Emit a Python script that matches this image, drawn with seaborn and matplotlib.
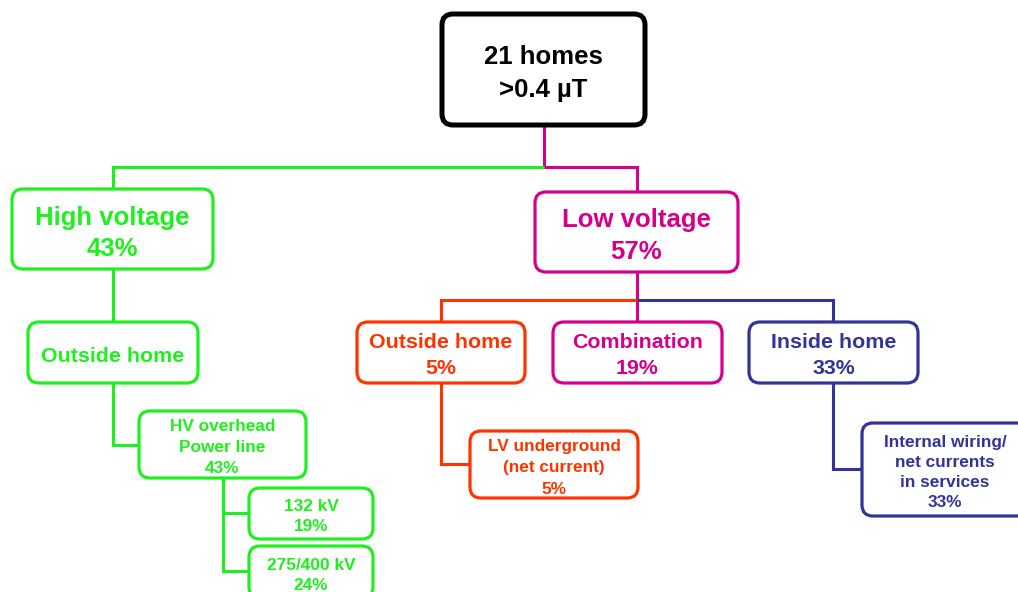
#!/usr/bin/env python3
"""Tree of field sources for homes above 0.4 uT."""

import matplotlib

matplotlib.use("Agg")

import matplotlib.pyplot as plt
import seaborn as sns
from matplotlib.patches import FancyBboxPatch

sns.set_theme(style="white")
plt.rcParams["font.family"] = ["Liberation Sans", "DejaVu Sans"]

# node text: title lines and share line
node_titles = [
    "21 homes",
    "High voltage",
    "Low voltage",
    "Outside home",
    "HV overhead\nPower line",
    "132 kV",
    "275/400 kV",
    "Outside home",
    "Combination",
    "Inside home",
    "LV underground\n(net current)",
    "Internal wiring/\nnet currents\nin services",
]
node_shares = [">0.4 µT", "43%", "57%", "", "43%", "19%", "24%",
               "5%", "19%", "33%", "5%", "33%"]
node_groups = ["root", "hv", "lv", "hv", "hv", "hv", "hv",
               "lv_out", "lv", "lv_in", "lv_out", "lv_in"]

COLORS = {
    "root": "black",
    "hv": "#1EF01E",
    "lv": "#D4008C",
    "lv_out": "#FF3300",
    "lv_in": "#333399",
}

# layout in pixel units: box (x0, y0, x1, y1), font size, line pitch
BOXES = [
    (442, 14, 645, 125),
    (12, 189, 213, 269),
    (535, 192, 738, 272),
    (28, 322, 198, 383),
    (139, 411, 306, 478),
    (249, 488, 373, 539),
    (249, 546, 373, 598),
    (357, 322, 525, 383),
    (553, 322, 722, 383),
    (749, 322, 918, 383),
    (470, 431, 638, 498),
    (862, 423, 1028, 516),
]
FONT = [18.5, 18.5, 18.5, 15.4, 12.4, 12.4, 12.4, 15.4, 15.4, 15.4, 12.4, 12.4]
PITCH = [33, 31, 32, 26, 21, 20, 20, 26, 26, 26, 21.5, 20.3]
TEXT_SHIFT = 1.5

# connectors: (group, polyline points)
LINKS = [
    ("lv", [(544, 125), (544, 167), (637, 167), (637, 192)]),
    ("hv", [(544, 167), (113, 167), (113, 189)]),
    ("hv", [(113, 269), (113, 322)]),
    ("hv", [(113, 383), (113, 445), (139, 445)]),
    ("hv", [(223, 478), (223, 513), (249, 513)]),
    ("hv", [(223, 478), (223, 571), (249, 571)]),
    ("lv", [(637, 272), (637, 322)]),
    ("lv_out", [(637, 300), (441, 300), (441, 322)]),
    ("lv_in", [(637, 300), (833, 300), (833, 322)]),
    ("lv_out", [(441, 383), (441, 464), (470, 464)]),
    ("lv_in", [(833, 383), (833, 469), (862, 469)]),
]


def main() -> None:
    fig = plt.figure(figsize=(10.18, 5.92), dpi=100)
    ax = fig.add_axes([0, 0, 1, 1])
    ax.set_xlim(0, 1018)
    ax.set_ylim(592, 0)
    ax.axis("off")

    for group, pts in LINKS:
        xs = [p[0] for p in pts]
        ys = [p[1] for p in pts]
        ax.plot(xs, ys, color=COLORS[group], lw=2.2, solid_joinstyle="miter",
                solid_capstyle="butt", zorder=1)

    for i, (x0, y0, x1, y1) in enumerate(BOXES):
        color = COLORS[node_groups[i]]
        lw = 3.6 if i == 0 else 2.3
        ax.add_patch(FancyBboxPatch(
            (x0, y0), x1 - x0, y1 - y0,
            boxstyle="round,pad=0,rounding_size=11",
            facecolor="white", edgecolor=color, lw=lw, zorder=2,
        ))
        lines = node_titles[i].split("\n")
        if node_shares[i]:
            lines.append(node_shares[i])
        cx = (x0 + x1) / 2
        cy = (y0 + y1) / 2 + TEXT_SHIFT
        n = len(lines)
        for k, line in enumerate(lines):
            y = cy + (k - (n - 1) / 2) * PITCH[i]
            ax.text(cx, y, line, ha="center", va="center_baseline",
                    fontsize=FONT[i], fontweight="bold", color=color, zorder=3)

    fig.savefig("out.png", dpi=100)
    plt.close(fig)


if __name__ == "__main__":
    main()
